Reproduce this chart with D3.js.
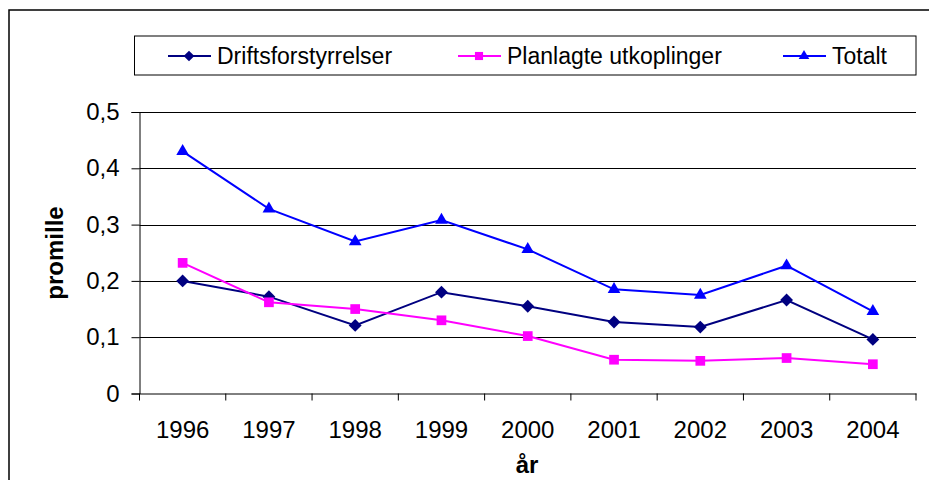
<!DOCTYPE html>
<html><head><meta charset="utf-8">
<script src="https://cdn.jsdelivr.net/npm/d3@7"></script>
<style>body{margin:0;background:#fff}svg{display:block}text{font-family:"Liberation Sans",Arial,sans-serif}</style>
</head><body>
<svg id="c" width="929" height="480"></svg>
<script>
const years = ["1996","1997","1998","1999","2000","2001","2002","2003","2004"];
const drifts = [0.200,0.172,0.121,0.180,0.155,0.127,0.118,0.166,0.096];
const planlagte = [0.232,0.162,0.150,0.130,0.102,0.060,0.058,0.063,0.052];
const totalt = [0.430,0.328,0.270,0.308,0.256,0.185,0.175,0.227,0.146];
const yTicks = [0,0.1,0.2,0.3,0.4,0.5];
const seriesNames = ["Driftsforstyrrelser","Planlagte utkoplinger","Totalt"];

const series = [
  {name: seriesNames[0], values: drifts, color:"#000080", sym: d3.symbolDiamond2, size: 105},
  {name: seriesNames[1], values: planlagte, color:"#FF00FF", sym: d3.symbolSquare2, size: 120},
  {name: seriesNames[2], values: totalt, color:"#0000FF", sym: d3.symbolTriangle2, size: 115}
];

const svg = d3.select("#c");
svg.append("rect").attr("x",9).attr("y",10).attr("width",940).attr("height",500)
  .attr("fill","none").attr("stroke","#000").attr("stroke-width",1.5);

const L = 139.5, R = 916, T = 112, B = 393.5;
const x = d3.scaleBand().domain(years).range([L,R]);
const y = d3.scaleLinear().domain([0,0.5]).range([B,T]);

// gridlines
svg.append("g").selectAll("line").data(yTicks.filter(d=>d>0)).join("line")
  .attr("x1",L).attr("x2",R).attr("y1",d=>Math.round(y(d))+0.5).attr("y2",d=>Math.round(y(d))+0.5)
  .attr("stroke","#000").attr("stroke-width",1);

// y axis
const ya = svg.append("g").attr("transform",`translate(${L},0)`)
  .call(d3.axisLeft(y).tickValues(yTicks).tickSize(8).tickPadding(12)
    .tickFormat(d=>d===0?"0":d3.format(".1f")(d).replace(".",",")));
ya.select(".domain").attr("stroke","#000");
ya.selectAll(".tick line").attr("stroke","#000");
ya.selectAll("text").attr("font-size",24).attr("fill","#000").attr("font-family","Liberation Sans, Arial, sans-serif");

// x axis
const xa = svg.append("g").attr("transform",`translate(0,${B})`)
  .call(d3.axisBottom(x).tickSize(0).tickPadding(0));
xa.select(".domain").attr("stroke","#000");
xa.selectAll("text").attr("font-size",24).attr("fill","#000").attr("dy",0).attr("y",44)
  .attr("font-family","Liberation Sans, Arial, sans-serif");
svg.append("g").selectAll("line").data(years.concat(["end"])).join("line")
  .attr("x1",(d,i)=>L+i*x.step()).attr("x2",(d,i)=>L+i*x.step())
  .attr("y1",B).attr("y2",B+7).attr("stroke","#000");

// axis titles
svg.append("text").attr("x",527).attr("y",473).attr("text-anchor","middle")
  .attr("font-size",24).attr("font-weight","bold").text("år");
svg.append("text").attr("transform","translate(63,253) rotate(-90)").attr("text-anchor","middle")
  .attr("font-size",24).attr("font-weight","bold").text("promille");

// lines
const line = d3.line().x((d,i)=>x(years[i])+x.bandwidth()/2).y(d=>y(d));
series.forEach(s=>{
  svg.append("path").datum(s.values).attr("d",line).attr("fill","none")
    .attr("stroke",s.color).attr("stroke-width",2);
  svg.append("g").selectAll("path").data(s.values).join("path")
    .attr("transform",(d,i)=>`translate(${x(years[i])+x.bandwidth()/2},${y(d)})`)
    .attr("d",d3.symbol(s.sym,s.size)).attr("fill",s.color);
});

// legend
svg.append("rect").attr("x",134.5).attr("y",36).attr("width",781.5).attr("height",39)
  .attr("fill","#fff").attr("stroke","#000").attr("stroke-width",1);
const legX = [168, 458, 783];
series.forEach((s,i)=>{
  const g = svg.append("g").attr("transform",`translate(${legX[i]},56)`);
  g.append("line").attr("x1",0).attr("x2",43).attr("y1",0).attr("y2",0).attr("stroke",s.color).attr("stroke-width",2);
  g.append("path").attr("transform","translate(21,0)").attr("d",d3.symbol(s.sym,s.size*0.7)).attr("fill",s.color);
  g.append("text").attr("x",49).attr("y",8).attr("font-size",23).attr("fill","#000").text(s.name);
});
</script>
</body></html>
